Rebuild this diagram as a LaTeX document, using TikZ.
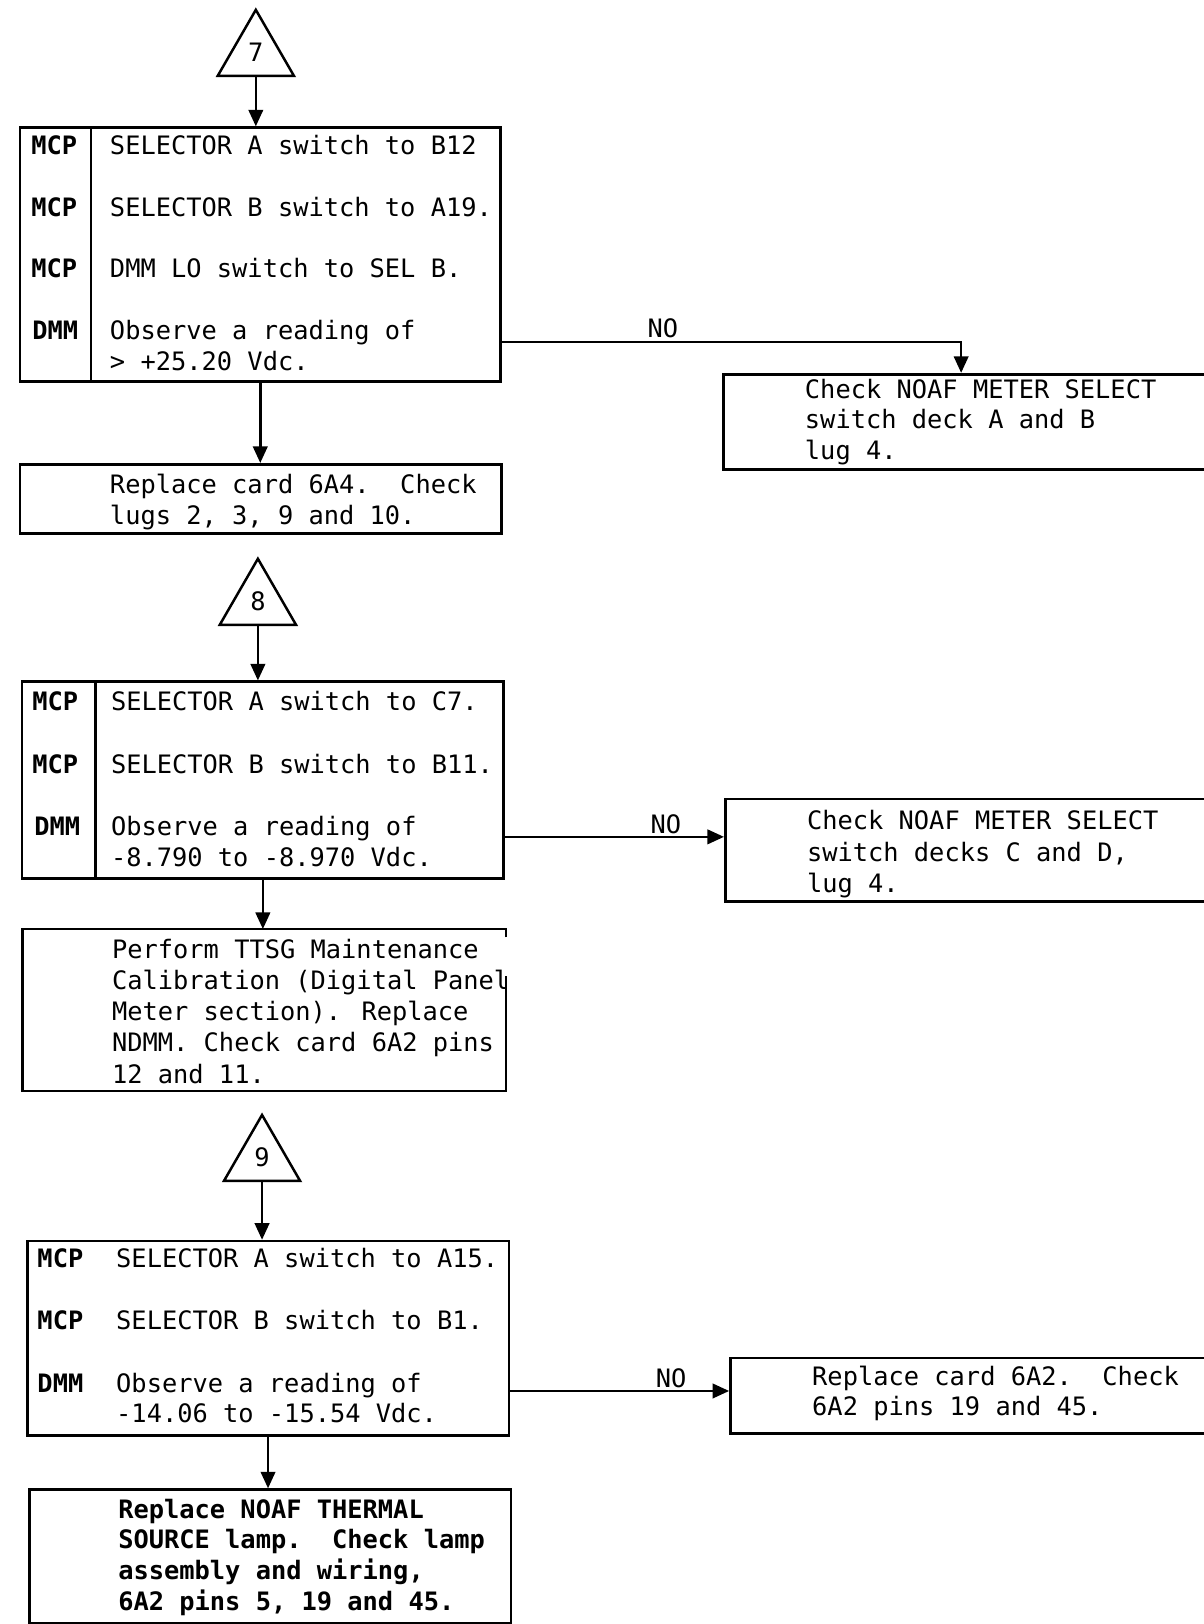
\documentclass[tikz,border=0pt]{standalone}
\usepackage{fontspec}
\newfontfamily\tw{DejaVu Sans Mono}
\usetikzlibrary{arrows.meta,shapes.geometric}
\begin{document}
\begin{tikzpicture}[x=1pt,y=-1pt,
  every node/.style={font=\tw\fontsize{24.5pt}{30pt}\selectfont, inner sep=0pt},
  box/.style={draw, line width=2.6pt, anchor=north west},
  ln/.style={line width=2.6pt},
  arr/.style={line width=2.4pt, -{Triangle[length=16pt,width=14pt]}},
  tri/.style={draw, line width=2.4pt, regular polygon, regular polygon sides=3, minimum size=85pt, inner sep=0pt},
  txt/.style={anchor=base west},
  lab/.style={anchor=base west, font=\tw\bfseries\fontsize{24.5pt}{30pt}\selectfont},
  btxt/.style={anchor=base west, font=\tw\bfseries\fontsize{24.5pt}{30pt}\selectfont},
  nolab/.style={anchor=base}
]
\useasboundingbox (0,0) rectangle (1162,1568);
\fill[white] (0,0) rectangle (1162,1568);

% ---------- block 7 ----------
\node[tri] (t7) at (247,52) {\raisebox{3pt}{7}};
\node[box, minimum width=464pt, minimum height=245pt] (b1) at (18,122) {};
\draw[ln] ([xshift=70pt]b1.north west) -- ([xshift=70pt]b1.south west);
\node[lab] (b1a) at (30,149) {MCP};
\node[lab] (b1b) at (30,209) {MCP};
\node[lab] (b1c) at (30,268) {MCP};
\node[lab] (b1d) at (31,328) {DMM};
\node[txt] (b1e) at (106,149) {SELECTOR A switch to B12};
\node[txt] (b1f) at (106,209) {SELECTOR B switch to A19.};
\node[txt] (b1g) at (106,268) {DMM LO switch to SEL B.};
\node[txt] (b1h) at (106,328) {Observe a reading of};
\node[txt] (b1i) at (106,358) {> +25.20 Vdc.};

\node[box, minimum width=465pt, minimum height=67pt] (r1) at (18,447) {};
\node[txt] (r1a) at (106,476) {Replace card 6A4.\ \ Check};
\node[txt] (r1b) at (106,506) {lugs 2, 3, 9 and 10.};

\node[box, minimum width=480pt, minimum height=92pt] (rb1) at (697,360) {};
\node[txt] (rb1a) at (777,385) {Check NOAF METER SELECT};
\node[txt] (rb1b) at (777,414) {switch deck A and B};
\node[txt] (rb1c) at (777,444) {lug 4.};

\coordinate (y1) at (0,330);
\node[nolab] (no1) at (640,326) {NO};
\draw[arr] (t7.south) -- (t7.south |- b1.north);
\draw[arr] (b1.south) -- (b1.south |- r1.north);
\draw[arr] (b1.east |- y1) -| ([xshift=231pt]rb1.north west);

% ---------- block 8 ----------
\node[tri] (t8) at (249,582) {\raisebox{3pt}{8}};
\node[box, minimum width=465pt, minimum height=190pt] (b2) at (20,657) {};
\draw[ln] ([xshift=72pt]b2.north west) -- ([xshift=72pt]b2.south west);
\node[lab] (b2a) at (31,686) {MCP};
\node[lab] (b2b) at (31,747) {MCP};
\node[lab] (b2c) at (33,807) {DMM};
\node[txt] (b2d) at (107,686) {SELECTOR A switch to C7.};
\node[txt] (b2e) at (107,747) {SELECTOR B switch to B11.};
\node[txt] (b2f) at (107,807) {Observe a reading of};
\node[txt] (b2g) at (107,837) {-8.790 to -8.970 Vdc.};

\node[anchor=north west, minimum width=466pt, minimum height=156pt] (b3) at (22,897) {};
\draw[ln] ([yshift=-8pt]b3.north east) -- (b3.north east) -- (b3.north west)
  -- (b3.south west) -- (b3.south east) -- ([yshift=111pt]b3.south east);
\node[txt] (b3a) at (108,925) {Perform TTSG Maintenance};
\node[txt] (b3b) at (108,955) {Calibration (Digital Panel};
\node[txt] (b3c) at (108,985) {Meter section). Replace};
\node[txt] (b3d) at (108,1015) {NDMM. Check card 6A2 pins};
\node[txt] (b3e) at (108,1046) {12 and 11.};

\node[box, minimum width=480pt, minimum height=99pt] (rb2) at (699,770) {};
\node[txt] (rb2a) at (779,801) {Check NOAF METER SELECT};
\node[txt] (rb2b) at (779,832) {switch decks C and D,};
\node[txt] (rb2c) at (779,862) {lug 4.};

\coordinate (y2) at (0,808);
\node[nolab] (no2) at (643,805) {NO};
\draw[arr] (t8.south) -- (t8.south |- b2.north);
\draw[arr] (b2.south) -- (b2.south |- b3.north);
\draw[arr] (b2.east |- y2) -- (rb2.west |- y2);

% ---------- block 9 ----------
\node[tri] (t9) at (253,1119) {\raisebox{3pt}{9}};
\node[box, minimum width=465pt, minimum height=188pt] (b4) at (25,1197) {};
\node[lab] (b4a) at (36,1224) {MCP};
\node[lab] (b4b) at (36,1284) {MCP};
\node[lab] (b4c) at (36,1344) {DMM};
\node[txt] (b4d) at (112,1224) {SELECTOR A switch to A15.};
\node[txt] (b4e) at (112,1284) {SELECTOR B switch to B1.};
\node[txt] (b4f) at (112,1344) {Observe a reading of};
\node[txt] (b4g) at (112,1373) {-14.06 to -15.54 Vdc.};

\node[box, minimum width=465pt, minimum height=129pt] (b5) at (27,1437) {};
\node[btxt] (b5a) at (114,1466) {Replace NOAF THERMAL};
\node[btxt] (b5b) at (114,1495) {SOURCE lamp.\ \ Check lamp};
\node[btxt] (b5c) at (114,1525) {assembly and wiring,};
\node[btxt] (b5d) at (114,1555) {6A2 pins 5, 19 and 45.};

\node[box, minimum width=480pt, minimum height=73pt] (rb3) at (704,1310) {};
\node[txt] (rb3a) at (784,1338) {Replace card 6A2.\ \ Check};
\node[txt] (rb3b) at (784,1367) {6A2 pins 19 and 45.};

\coordinate (y3) at (0,1343);
\node[nolab] (no3) at (648,1340) {NO};
\draw[arr] (t9.south) -- (t9.south |- b4.north);
\draw[arr] (b4.south) -- (b4.south |- b5.north);
\draw[arr] (b4.east |- y3) -- (rb3.west |- y3);
\end{tikzpicture}
\end{document}
